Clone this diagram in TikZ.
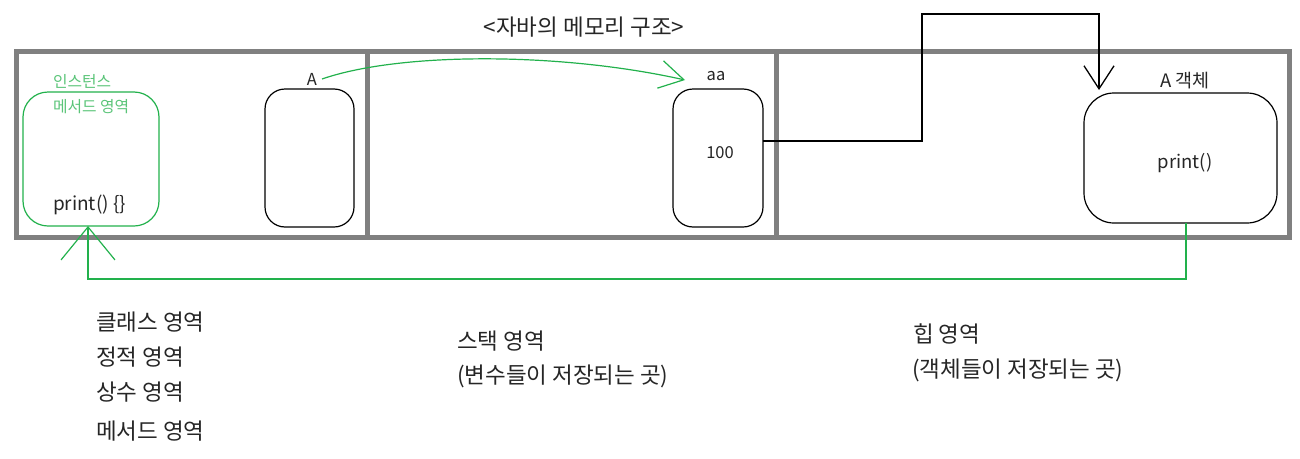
\documentclass[tikz,border=0pt]{standalone}
\usepackage{fontspec}
\setmainfont{Noto Sans CJK KR}
\usetikzlibrary{arrows.meta,calc}
\definecolor{boxgray}{RGB}{128,128,128}
\definecolor{pgreen}{RGB}{34,177,76}
\definecolor{tgreen}{RGB}{90,196,120}
\definecolor{txt}{RGB}{38,38,38}
\begin{document}
\begin{tikzpicture}[x=1pt,y=-1pt,
  every node/.style={inner sep=0pt, outer sep=0pt},
  area/.style={draw=boxgray, line width=5pt, rectangle},
  rbox/.style={draw=black, line width=1.2pt, rectangle, rounded corners=#1},
  gbox/.style={draw=pgreen, line width=1.2pt, rectangle, rounded corners=25pt},
  big/.style={text=txt, font=\fontsize{22.5}{26}\selectfont},
  mid/.style={text=txt, font=\fontsize{18.5}{22}\selectfont},
  sml/.style={text=txt, font=\fontsize{16.5}{19}\selectfont},
  gtxt/.style={text=tgreen, font=\fontsize{15.8}{18}\selectfont, anchor=west},
  gline/.style={draw=pgreen, line width=1.2pt},
  bline/.style={draw=black, line width=1.3pt}]
\useasboundingbox (0,0) rectangle (1300,458);

% title
\node[big] (title) at (584,27) {<자바의 메모리 구조>};

% area boxes
\node[area, minimum width=350.5pt, minimum height=186pt] (clsarea) at (191.75,144.5) {};
\node[area, minimum width=409pt, minimum height=186pt] (stkarea) at (571.5,144.5) {};
\node[area, minimum width=513pt, minimum height=186pt] (heaparea) at (1032.5,144.5) {};

% class area contents
\node[gbox, minimum width=136pt, minimum height=134pt] (gmeth) at (91,159) {};
\node[gtxt] (inst) at (53,81) {인스턴스};
\node[gtxt] (meth) at (53,107) {메서드 영역};
\node[text=txt, font=\fontsize{19}{22}\selectfont, anchor=west] (pdef) at (53,205) {print() \{\}};
\node[rbox=20pt, minimum width=89pt, minimum height=138pt] (abox) at (309.5,158) {};
\node[sml] (alabel) at (312,79) {A};

% stack area contents
\node[rbox=20pt, minimum width=90pt, minimum height=138pt] (aabox) at (718,158) {};
\node[sml] (aalabel) at (716,76) {aa};
\node[sml] (val) at (720,153) {100};

% heap area contents
\node[rbox=30pt, minimum width=193pt, minimum height=130pt] (objbox) at (1180.5,158) {};
\node[mid] (objlabel) at (1185,81) {A 객체};
\node[mid] (pobj) at (1185,163) {print()};

% bottom labels
\node[big, anchor=west] (l1) at (96,322) {클래스 영역};
\node[big, anchor=west] (l2) at (96,357) {정적 영역};
\node[big, anchor=west] (l3) at (96,392) {상수 영역};
\node[big, anchor=west] (l4) at (96,431) {메서드 영역};
\node[big, anchor=west] (s1) at (457,341) {스택 영역};
\node[big, anchor=west] (s2) at (457,376) {(변수들이 저장되는 곳)};
\node[big, anchor=west] (h1) at (913,334) {힙 영역};
\node[big, anchor=west] (h2) at (912,370) {(객체들이 저장되는 곳)};

% connectors
\coordinate (aaend) at (685,80);
\draw[gline, -{Straight Barb[length=24pt,width=28pt]}] ([xshift=5pt]alabel.east) .. controls (400,52) and (560,52) .. (aaend);

\coordinate (bend) at (922,14);
\coordinate (objtip) at (1099,90);
\draw[bline, -{Straight Barb[length=23pt,width=30pt]}] ([yshift=17pt]aabox.east) -| (bend) -| (objtip);

\coordinate (gcorner) at (88,279);
\draw[gline, -{Straight Barb[length=33pt,width=54pt]}] ([xshift=5.5pt]objbox.south) |- (gcorner) -- ([xshift=-3pt]gmeth.south);
\end{tikzpicture}
\end{document}
